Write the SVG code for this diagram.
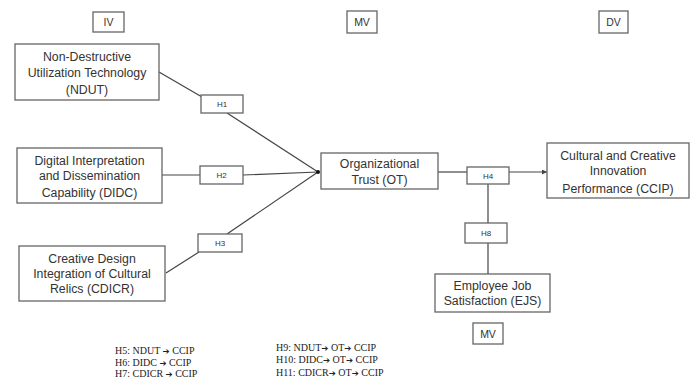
<svg xmlns="http://www.w3.org/2000/svg" width="695" height="383" viewBox="0 0 695 383">
<defs>
<style>
.box{fill:#fff;stroke:#666;stroke-width:1.3}
.t{font-family:"Liberation Sans",Arial,sans-serif;font-size:12.3px;fill:#333;text-anchor:middle}
.h{font-family:"Liberation Sans",Arial,sans-serif;font-size:8px;fill:#333;text-anchor:middle}
.c{font-family:"Liberation Sans",Arial,sans-serif;font-size:10.5px;fill:#333;text-anchor:middle}
.ln{fill:none;stroke:#444;stroke-width:1.2}
.n{font-family:"Liberation Serif","Times New Roman","DejaVu Sans",serif;font-size:10px;fill:#222}
.a{font-family:"DejaVu Sans",sans-serif;font-size:8.5px}
</style>
<marker id="arr" viewBox="0 0 6 6" refX="6" refY="3" markerWidth="5" markerHeight="5" orient="auto" markerUnits="userSpaceOnUse">
<path d="M0,0 L6,3 L0,6 z" fill="#444"/>
</marker>
</defs>
<rect width="695" height="383" fill="#fff"/>

<g id="connectors">
<line class="ln" x1="159" y1="72" x2="202" y2="97"/>
<line class="ln" x1="227" y1="113" x2="318" y2="172"/>
<line class="ln" x1="162" y1="175" x2="200" y2="175"/>
<line class="ln" x1="243" y1="175" x2="318" y2="172"/>
<line class="ln" x1="166" y1="273" x2="199" y2="252"/>
<line class="ln" x1="227" y1="234" x2="318" y2="172"/>
<circle cx="318" cy="172" r="2" fill="#111"/>
<line class="ln" x1="438" y1="172" x2="467" y2="172"/>
<line class="ln" x1="509" y1="172" x2="547" y2="172" marker-end="url(#arr)"/>
<line class="ln" x1="488" y1="184" x2="488" y2="223"/>
<line class="ln" x1="488" y1="243" x2="488" y2="274"/>
</g>

<g id="label-iv"><rect class="box" x="93" y="12" width="31" height="20"/><text class="c" x="108.5" y="26">IV</text></g>
<g id="label-mv-top"><rect class="box" x="347" y="11" width="30" height="22"/><text class="c" x="362" y="26">MV</text></g>
<g id="label-dv"><rect class="box" x="599" y="11" width="29" height="22"/><text class="c" x="613.5" y="26">DV</text></g>
<g id="label-mv-bottom"><rect class="box" x="473" y="323" width="30" height="21"/><text class="c" x="488" y="337.5">MV</text></g>

<g id="ndut"><rect class="box" x="15" y="44" width="144" height="56"/>
<text class="t" x="87" y="61">Non-Destructive</text>
<text class="t" x="87" y="77">Utilization Technology</text>
<text class="t" x="87" y="93.5">(NDUT)</text></g>

<g id="didc"><rect class="box" x="17" y="148" width="145" height="55"/>
<text class="t" x="89.5" y="164.5">Digital Interpretation</text>
<text class="t" x="89.5" y="180">and Dissemination</text>
<text class="t" x="89.5" y="196.5">Capability (DIDC)</text></g>

<g id="cdicr"><rect class="box" x="19" y="246" width="146" height="55"/>
<text class="t" x="92" y="262.5">Creative Design</text>
<text class="t" x="92" y="277.5">Integration of Cultural</text>
<text class="t" x="92" y="292.5">Relics (CDICR)</text></g>

<g id="ot"><rect class="box" x="321" y="153" width="117" height="36"/>
<text class="t" x="379.5" y="168">Organizational</text>
<text class="t" x="379.5" y="184">Trust (OT)</text></g>

<g id="ccip"><rect class="box" x="547" y="143" width="142" height="55"/>
<text class="t" x="618" y="159.5">Cultural and Creative</text>
<text class="t" x="618" y="175">Innovation</text>
<text class="t" x="618" y="192.5">Performance (CCIP)</text></g>

<g id="ejs"><rect class="box" x="435" y="274" width="115" height="38"/>
<text class="t" x="492.5" y="290">Employee Job</text>
<text class="t" x="492.5" y="304.5">Satisfaction (EJS)</text></g>

<g id="h1"><rect class="box" x="201" y="95" width="42" height="18"/><text class="h" x="222" y="107">H1</text></g>
<g id="h2"><rect class="box" x="200" y="166" width="43" height="18"/><text class="h" x="221.5" y="178">H2</text></g>
<g id="h3"><rect class="box" x="198" y="234" width="44" height="18"/><text class="h" x="220" y="246">H3</text></g>
<g id="h4"><rect class="box" x="467" y="167" width="42" height="17"/><text class="h" x="488" y="178.5">H4</text></g>
<g id="h8"><rect class="box" x="465" y="223" width="42" height="20"/><text class="h" x="486" y="236">H8</text></g>

<g id="notes">
<text class="n" x="115" y="354">H5: NDUT <tspan class="a">➔</tspan> CCIP</text>
<text class="n" x="115" y="365.5">H6: DIDC <tspan class="a">➔</tspan> CCIP</text>
<text class="n" x="115" y="377">H7: CDICR <tspan class="a">➔</tspan> CCIP</text>
<text class="n" x="276" y="351">H9: NDUT<tspan class="a">➔</tspan> OT<tspan class="a">➔</tspan> CCIP</text>
<text class="n" x="276" y="362.5">H10: DIDC<tspan class="a">➔</tspan> OT<tspan class="a">➔</tspan> CCIP</text>
<text class="n" x="276" y="376">H11: CDICR<tspan class="a">➔</tspan> OT<tspan class="a">➔</tspan> CCIP</text>
</g>
</svg>
